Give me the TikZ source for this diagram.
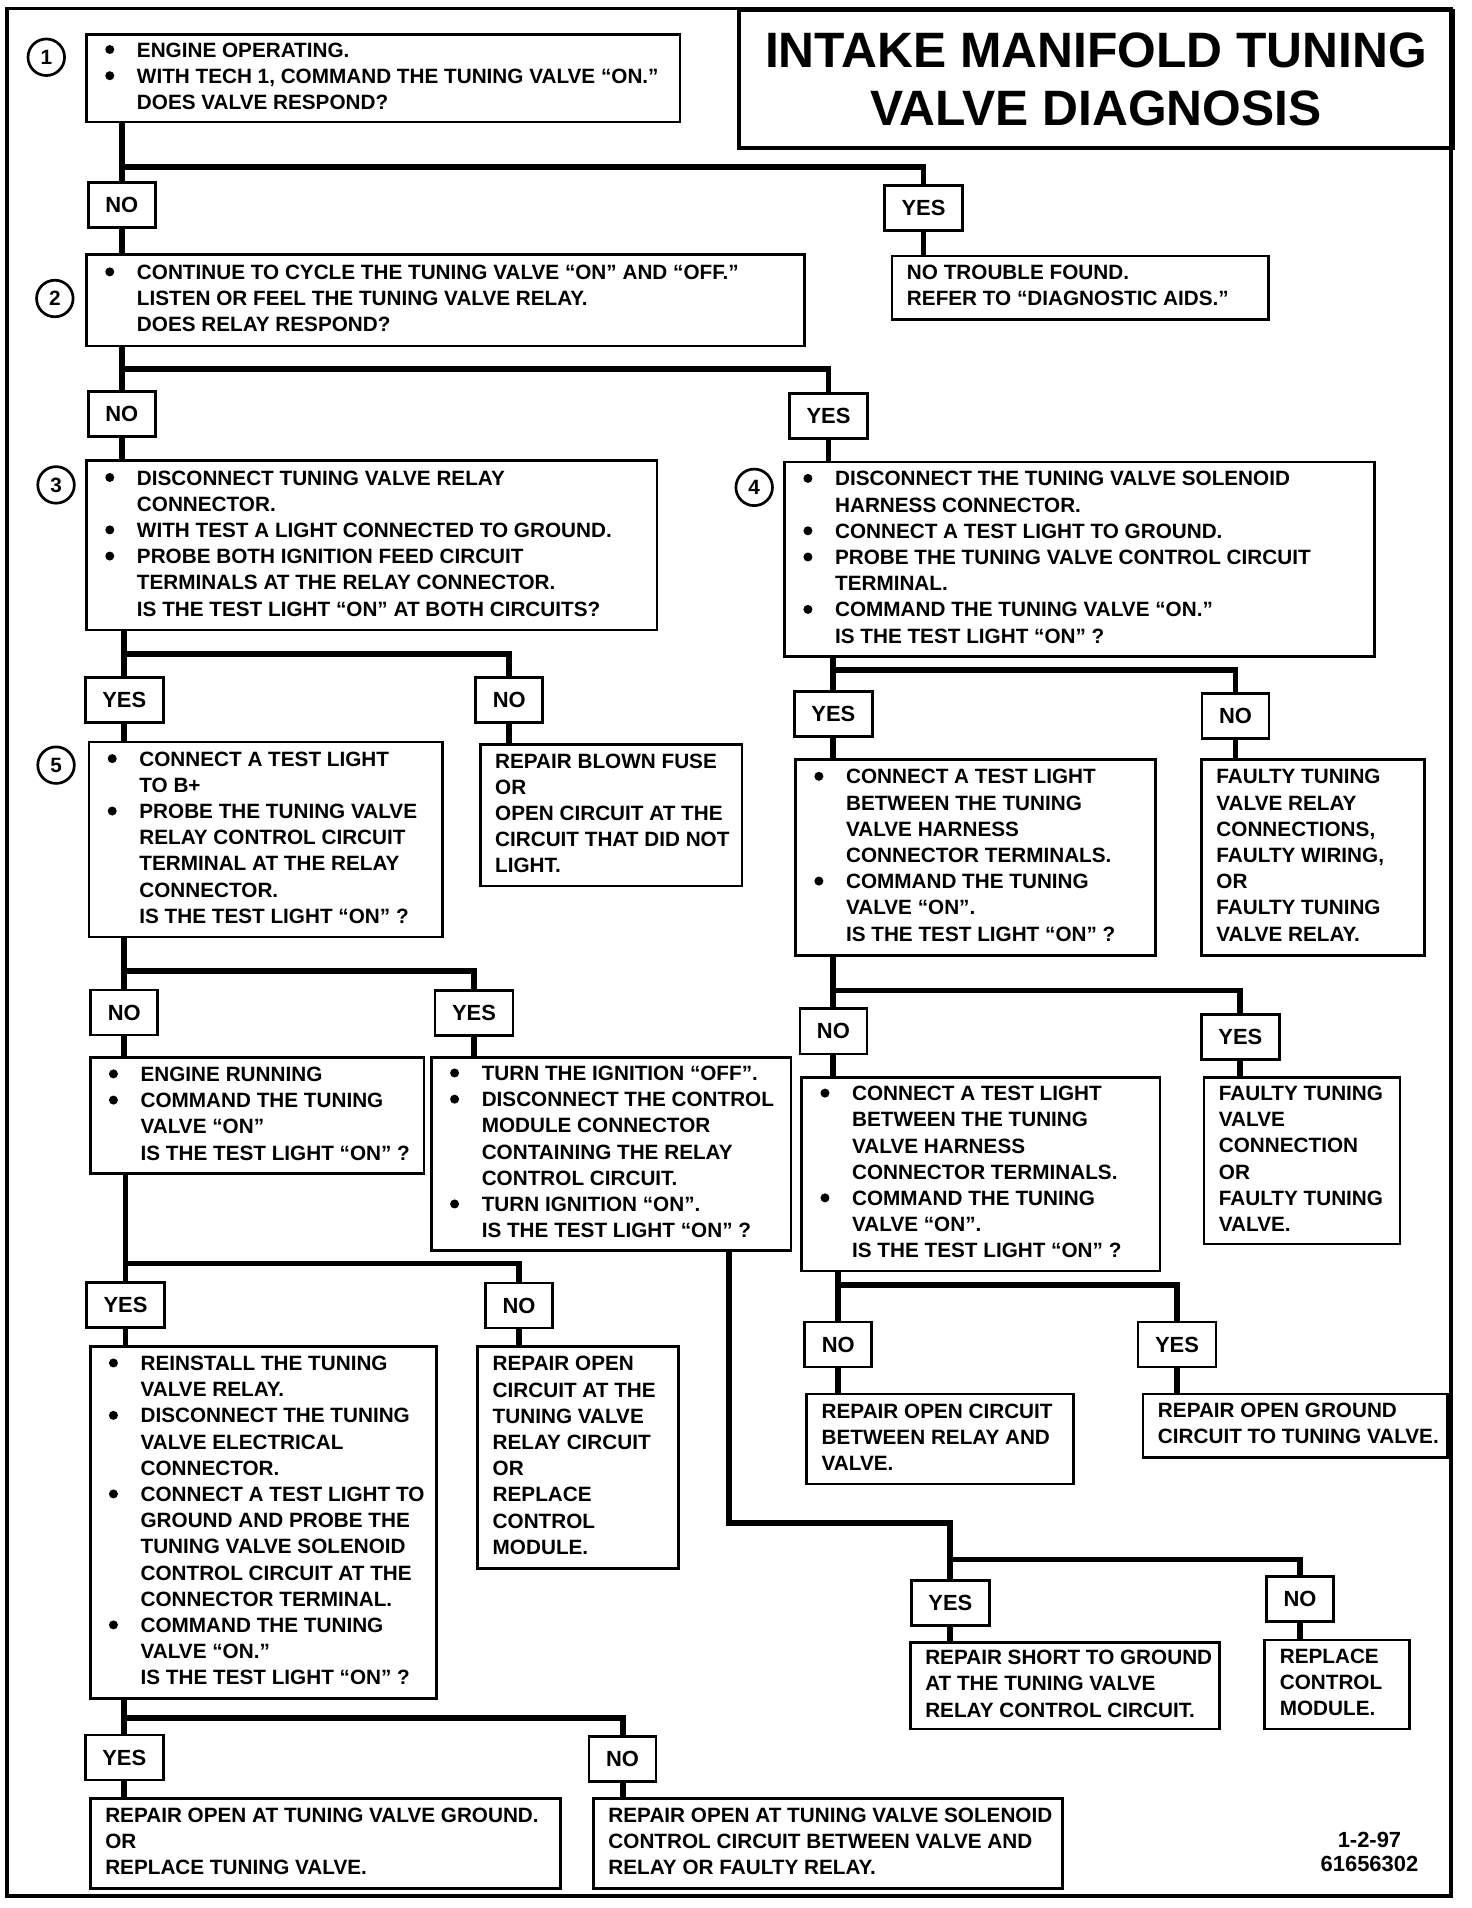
\documentclass[tikz,border=0pt]{standalone}
\usepackage{fontspec}
\setmainfont{Liberation Sans}
\newcommand\bul{\makebox[17pt][l]{\hspace{4pt}\tikz[baseline=0pt,x=1pt,y=1pt]\fill (2.1,3.1) circle (1.85);}}
\newcommand\ind{\makebox[17pt]{}}
\tikzset{
  box/.style={draw, line width=1.1pt, fill=white, inner sep=0pt},
  txt/.style={inner sep=0pt, align=left, font=\fontsize{8.5}{10.75}\selectfont\bfseries},
  lab/.style={draw, line width=1.1pt, fill=white, inner xsep=7pt, inner ysep=0pt, minimum height=18.5pt, font=\fontsize{9}{10}\selectfont\bfseries},
  circ/.style={draw, circle, line width=1.1pt, minimum size=15pt, inner sep=0pt, font=\fontsize{8.5}{9}\selectfont\bfseries},
  conn/.style={line width=2.4pt},
  frame/.style={line width=1.5pt}
}
\newcommand\pbox[6]{%
  \node[box, minimum width=#4*0.5pt, minimum height=#5*0.5pt, anchor=north west] (#1) at (#2,#3) {};
  \node[txt, anchor=west] (#1t) at ([xshift=6.5pt,yshift=0.8pt]#1.west) {#6};}
\newcommand\bbox[6]{%
  \node[box, minimum width=#4*0.5pt, minimum height=#5*0.5pt, anchor=north west] (#1) at (#2,#3) {};
  \node[txt, anchor=west] (#1t) at ([xshift=4pt,yshift=0.8pt]#1.west) {#6};}
\begin{document}
\begin{tikzpicture}[x=0.5pt, y=-0.5pt]
\useasboundingbox (0,0) rectangle (1208,1566);
\draw[frame] (6,7) rectangle (1191,1556);
\node[draw, frame, minimum width=586*0.5pt, minimum height=113*0.5pt, anchor=north west, inner sep=0pt] (titlebox) at (605,7) {};
\node[inner sep=0pt, align=center, font=\fontsize{20.4}{24}\selectfont\bfseries] (title) at (titlebox.center) {INTAKE MANIFOLD TUNING\\VALVE DIAGNOSIS};

% circles
\node[circ] (c1) at (38,47) {1};
\node[circ] (c2) at (45,245) {2};
\node[circ] (c3) at (46,398) {3};
\node[circ] (c4) at (619,400) {4};
\node[circ] (c5) at (46,628) {5};

% boxes
\bbox{b1}{70}{27}{487}{72}{\bul ENGINE OPERATING.\\\bul WITH TECH 1, COMMAND THE TUNING VALVE “ON.”\\\ind DOES VALVE RESPOND?}
\pbox{ntf}{731}{209}{309}{52}{NO TROUBLE FOUND.\\REFER TO “DIAGNOSTIC AIDS.”}
\bbox{b2}{70}{208}{589}{75}{\bul CONTINUE TO CYCLE THE TUNING VALVE “ON” AND “OFF.”\\\ind LISTEN OR FEEL THE TUNING VALVE RELAY.\\\ind DOES RELAY RESPOND?}
\bbox{b3}{70}{377}{468}{139}{\bul DISCONNECT TUNING VALVE RELAY\\\ind CONNECTOR.\\\bul WITH TEST A LIGHT CONNECTED TO GROUND.\\\bul PROBE BOTH IGNITION FEED CIRCUIT\\\ind TERMINALS AT THE RELAY CONNECTOR.\\\ind IS THE TEST LIGHT “ON” AT BOTH CIRCUITS?}
\bbox{b4}{643}{378}{484}{160}{\bul DISCONNECT THE TUNING VALVE SOLENOID\\\ind HARNESS CONNECTOR.\\\bul CONNECT A TEST LIGHT TO GROUND.\\\bul PROBE THE TUNING VALVE CONTROL CIRCUIT\\\ind TERMINAL.\\\bul COMMAND THE TUNING VALVE “ON.”\\\ind IS THE TEST LIGHT “ON” ?}
\bbox{b5}{72}{608}{290}{160}{\bul CONNECT A TEST LIGHT\\\ind TO B+\\\bul PROBE THE TUNING VALVE\\\ind RELAY CONTROL CIRCUIT\\\ind TERMINAL AT THE RELAY\\\ind CONNECTOR.\\\ind IS THE TEST LIGHT “ON” ?}
\pbox{fuse}{393}{610}{215}{116}{REPAIR BLOWN FUSE\\OR\\OPEN CIRCUIT AT THE\\CIRCUIT THAT DID NOT\\LIGHT.}
\bbox{b4y}{652}{622}{295}{161}{\bul CONNECT A TEST LIGHT\\\ind BETWEEN THE TUNING\\\ind VALVE HARNESS\\\ind CONNECTOR TERMINALS.\\\bul COMMAND THE TUNING\\\ind VALVE “ON”.\\\ind IS THE TEST LIGHT “ON” ?}
\pbox{b4n}{985}{622}{183}{161}{FAULTY TUNING\\VALVE RELAY\\CONNECTIONS,\\FAULTY WIRING,\\OR\\FAULTY TUNING\\VALVE RELAY.}
\bbox{b5n}{73}{867}{274}{95}{\bul ENGINE RUNNING\\\bul COMMAND THE TUNING\\\ind VALVE “ON”\\\ind IS THE TEST LIGHT “ON” ?}
\bbox{b5y}{353}{867}{295}{158}{\bul TURN THE IGNITION “OFF”.\\\bul DISCONNECT THE CONTROL\\\ind MODULE CONNECTOR\\\ind CONTAINING THE RELAY\\\ind CONTROL CIRCUIT.\\\bul TURN IGNITION “ON”.\\\ind IS THE TEST LIGHT “ON” ?}
\bbox{b4yn}{657}{883}{294}{159}{\bul CONNECT A TEST LIGHT\\\ind BETWEEN THE TUNING\\\ind VALVE HARNESS\\\ind CONNECTOR TERMINALS.\\\bul COMMAND THE TUNING\\\ind VALVE “ON”.\\\ind IS THE TEST LIGHT “ON” ?}
\pbox{b4yy}{987}{883}{161}{137}{FAULTY TUNING\\VALVE\\CONNECTION\\OR\\FAULTY TUNING\\VALVE.}
\bbox{b5ny}{73}{1104}{284}{289}{\bul REINSTALL THE TUNING\\\ind VALVE RELAY.\\\bul DISCONNECT THE TUNING\\\ind VALVE ELECTRICAL\\\ind CONNECTOR.\\\bul CONNECT A TEST LIGHT TO\\\ind GROUND AND PROBE THE\\\ind TUNING VALVE SOLENOID\\\ind CONTROL CIRCUIT AT THE\\\ind CONNECTOR TERMINAL.\\\bul COMMAND THE TUNING\\\ind VALVE “ON.”\\\ind IS THE TEST LIGHT “ON” ?}
\pbox{b5nn}{391}{1104}{165}{182}{REPAIR OPEN\\CIRCUIT AT THE\\TUNING VALVE\\RELAY CIRCUIT\\OR\\REPLACE\\CONTROL\\MODULE.}
\pbox{b4ynn}{661}{1143}{219}{74}{REPAIR OPEN CIRCUIT\\BETWEEN RELAY AND\\VALVE.}
\pbox{b4yny}{937}{1143}{250}{52}{REPAIR OPEN GROUND\\CIRCUIT TO TUNING VALVE.}
\pbox{b5yy}{746}{1347}{254}{71}{REPAIR SHORT TO GROUND\\AT THE TUNING VALVE\\RELAY CONTROL CIRCUIT.}
\pbox{b5yn}{1037}{1345}{119}{73}{REPLACE\\CONTROL\\MODULE.}
\pbox{b5nyy}{73}{1475}{386}{74}{REPAIR OPEN AT TUNING VALVE GROUND.\\OR\\REPLACE TUNING VALVE.}
\pbox{b5nyn}{486}{1475}{385}{74}{REPAIR OPEN AT TUNING VALVE SOLENOID\\CONTROL CIRCUIT BETWEEN VALVE AND\\RELAY OR FAULTY RELAY.}

% labels
\node[lab] (nA) at (100,168.5) {NO};
\node[lab] (yA) at (758,170.5) {YES};
\node[lab] (nB) at (100,340) {NO};
\node[lab] (yB) at (680,341.5) {YES};
\node[lab] (yC) at (102,574.5) {YES};
\node[lab] (nC) at (418,574.5) {NO};
\node[lab] (yD) at (684,586) {YES};
\node[lab] (nD) at (1014,587.5) {NO};
\node[lab] (nE) at (102,831) {NO};
\node[lab] (yE) at (389,831.5) {YES};
\node[lab] (nF) at (684,846.5) {NO};
\node[lab] (yF) at (1018,851) {YES};
\node[lab] (yG) at (103,1071) {YES};
\node[lab] (nG) at (426,1071.5) {NO};
\node[lab] (nH) at (688,1103.5) {NO};
\node[lab] (yH) at (966,1103.5) {YES};
\node[lab] (yI) at (780,1315.5) {YES};
\node[lab] (nI) at (1067,1312.5) {NO};
\node[lab] (yJ) at (102,1442.5) {YES};
\node[lab] (nJ) at (511,1443.5) {NO};

\node[inner sep=0pt, align=center, font=\fontsize{9}{9.5}\selectfont\bfseries] (date) at (1124,1520) {1-2-97\\61656302};

% junctions
\coordinate (jA) at (100,137);
\coordinate (jB) at (100,303);
\coordinate (jC) at (102,537);
\coordinate (jD) at (684,550);
\coordinate (jE) at (102,797);
\coordinate (jF) at (684,813);
\coordinate (jG) at (103,1037);
\coordinate (jH) at (688,1055);
\coordinate (jI1) at (598,1250);
\coordinate (jI2) at (780,1280);
\coordinate (jJ) at (102,1410);

% connectors
\draw[conn] (b1.south -| jA) -- (jA) -| (yA.north);
\draw[conn] (jA) -- (nA.north);
\draw[conn] (nA.south) -- (nA.south |- b2.north);
\draw[conn] (yA.south) -- (yA.south |- ntf.north);

\draw[conn] (b2.south -| jB) -- (jB) -| (yB.north);
\draw[conn] (jB) -- (nB.north);
\draw[conn] (nB.south) -- (nB.south |- b3.north);
\draw[conn] (yB.south) -- (yB.south |- b4.north);

\draw[conn] (b3.south -| jC) -- (jC) -| (nC.north);
\draw[conn] (jC) -- (yC.north);
\draw[conn] (yC.south) -- (yC.south |- b5.north);
\draw[conn] (nC.south) -- (nC.south |- fuse.north);

\draw[conn] (b4.south -| jD) -- (jD) -| (nD.north);
\draw[conn] (jD) -- (yD.north);
\draw[conn] (yD.south) -- (yD.south |- b4y.north);
\draw[conn] (nD.south) -- (nD.south |- b4n.north);

\draw[conn] (b5.south -| jE) -- (jE) -| (yE.north);
\draw[conn] (jE) -- (nE.north);
\draw[conn] (nE.south) -- (nE.south |- b5n.north);
\draw[conn] (yE.south) -- (yE.south |- b5y.north);

\draw[conn] (b4y.south -| jF) -- (jF) -| (yF.north);
\draw[conn] (jF) -- (nF.north);
\draw[conn] (nF.south) -- (nF.south |- b4yn.north);
\draw[conn] (yF.south) -- (yF.south |- b4yy.north);

\draw[conn] (b5n.south -| jG) -- (jG) -| (nG.north);
\draw[conn] (jG) -- (yG.north);
\draw[conn] (yG.south) -- (yG.south |- b5ny.north);
\draw[conn] (nG.south) -- (nG.south |- b5nn.north);

\draw[conn] (b4yn.south -| jH) -- (jH) -| (yH.north);
\draw[conn] (jH) -- (nH.north);
\draw[conn] (nH.south) -- (nH.south |- b4ynn.north);
\draw[conn] (yH.south) -- (yH.south |- b4yny.north);

\draw[conn] (b5y.south -| jI1) -- (jI1) -| (jI2) -| (nI.north);
\draw[conn] (jI2) -- (yI.north);
\draw[conn] (yI.south) -- (yI.south |- b5yy.north);
\draw[conn] (nI.south) -- (nI.south |- b5yn.north);

\draw[conn] (b5ny.south -| jJ) -- (jJ) -| (nJ.north);
\draw[conn] (jJ) -- (yJ.north);
\draw[conn] (yJ.south) -- (yJ.south |- b5nyy.north);
\draw[conn] (nJ.south) -- (nJ.south |- b5nyn.north);
\end{tikzpicture}
\end{document}
